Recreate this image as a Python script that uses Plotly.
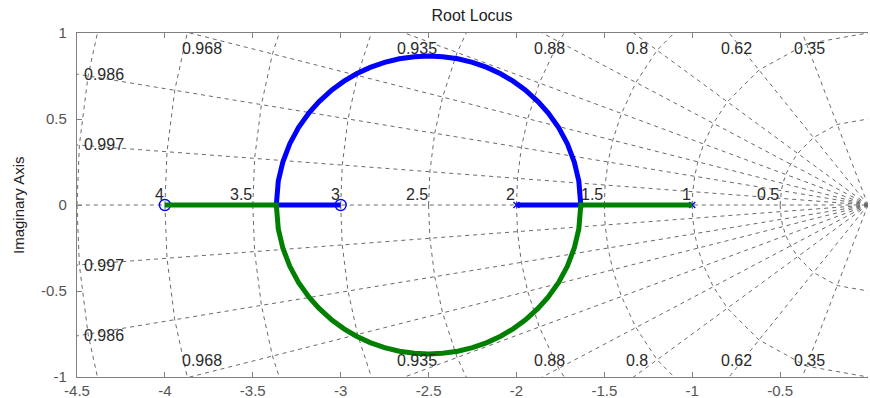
import numpy as np
import plotly.graph_objects as go

# Open-loop zeros and poles (real axis)
zeros_re = [-4.0, -3.0]
poles_re = [-2.0, -1.0]

# Upper half of the complex-pole loop, from breakaway (right) to break-in (left)
arc_re = [-1.634, -1.645, -1.671, -1.710, -1.760, -1.820, -1.876, -1.950, -2.019,
          -2.090, -2.168, -2.250, -2.334, -2.420, -2.500, -2.580, -2.666, -2.750,
          -2.832, -2.910, -2.981, -3.050, -3.124, -3.180, -3.240, -3.290, -3.329,
          -3.355, -3.366]
arc_im = [0.000, 0.138, 0.250, 0.355, 0.450, 0.536, 0.600, 0.669, 0.720,
          0.763, 0.800, 0.829, 0.850, 0.862, 0.866, 0.862, 0.850, 0.829,
          0.800, 0.763, 0.720, 0.669, 0.600, 0.536, 0.450, 0.355, 0.250,
          0.138, 0.000]

# Branch 1: pole -2 -> upper loop -> zero -3 ; Branch 2: pole -1 -> lower loop -> zero -4
b1_re = [poles_re[0]] + arc_re + [zeros_re[1]]
b1_im = [0.0] + arc_im + [0.0]
b2_re = [poles_re[1]] + arc_re + [zeros_re[0]]
b2_im = [0.0] + [-v for v in arc_im] + [0.0]

# s-plane grid: damping ratios and natural frequencies
zeta_lines = [0.997, 0.986, 0.968, 0.935, 0.88, 0.8, 0.62, 0.35]
wn_circles = [0.5, 1.0, 1.5, 2.0, 2.5, 3.0, 3.5, 4.0, 4.5, 5.0]
wn_labels = ["0.5", "1", "1.5", "2", "2.5", "3", "3.5", "4"]
zeta_labels = ["0.997", "0.986", "0.968", "0.935", "0.88", "0.8", "0.62", "0.35"]

XMIN, XMAX, YMIN, YMAX = -4.5, 0.0, -1.0, 1.0
GRID = "#6a6a6a"
FONT = "Liberation Sans, Arial, sans-serif"
LBL = dict(size=16, color="#2a2a2a", family=FONT)

fig = go.Figure()

# damping rays + real axis
gx, gy = [-8.0, 0.0, None], [0.0, 0.0, None]
for z in zeta_lines:
    s = np.sqrt(1 - z * z)
    for sgn in (1, -1):
        gx += [0.0, -8 * z, None]
        gy += [0.0, sgn * 8 * s, None]
# natural-frequency curves through the ray angles
angles = np.concatenate([[0.0], np.arccos(zeta_lines), [np.pi / 2]])
for w in wn_circles:
    for sgn in (1, -1):
        gx += list(-w * np.cos(angles)) + [None]
        gy += list(sgn * w * np.sin(angles)) + [None]
fig.add_trace(go.Scatter(x=gx, y=gy, mode="lines", hoverinfo="skip",
                         line=dict(color=GRID, width=1, dash="4px,4px")))

# zeros and poles
fig.add_trace(go.Scatter(x=zeros_re, y=[0, 0], mode="markers",
                         marker=dict(symbol="circle-open", size=11, color="#0000ff",
                                     line=dict(width=1.4, color="#0000ff"))))
fig.add_trace(go.Scatter(x=poles_re, y=[0, 0], mode="markers",
                         marker=dict(symbol="x-thin-open", size=6, color="#0000ff",
                                     line=dict(width=1.4, color="#0000ff"))))

# locus branches
fig.add_trace(go.Scatter(x=b1_re, y=b1_im, mode="lines",
                         line=dict(color="#0000ff", width=5)))
fig.add_trace(go.Scatter(x=b2_re, y=b2_im, mode="lines",
                         line=dict(color="#008000", width=5)))

ann = []
# natural-frequency labels just above the real axis
for w, t in zip(wn_circles, wn_labels):
    ann.append(dict(x=-w, y=0, text=t, showarrow=False, xanchor="right",
                    yanchor="middle", yshift=11, xshift=1, font=LBL))
# damping labels where rays leave the plot
for z, t in zip(zeta_lines, zeta_labels):
    s = np.sqrt(1 - z * z)
    tn = s / z
    if YMAX / tn <= -XMIN:
        xe = -YMAX / tn
        ann.append(dict(x=xe, y=YMAX, text=t, showarrow=False, xanchor="left",
                        yanchor="top", xshift=-10, yshift=-5, font=LBL))
        ann.append(dict(x=xe, y=YMIN, text=t, showarrow=False, xanchor="left",
                        yanchor="bottom", xshift=-10, yshift=6, font=LBL))
    else:
        ye = -XMIN * tn
        for sgn in (1, -1):
            ann.append(dict(x=XMIN, y=sgn * ye, text=t, showarrow=False,
                            xanchor="left", yanchor="middle", xshift=5, font=LBL))
# y-axis title
ann.append(dict(x=-0.0746, y=0.5, xref="paper", yref="paper", text="Imaginary Axis",
                textangle=-90, showarrow=False, xanchor="center", yanchor="middle",
                font=dict(size=15, color="#222222", family=FONT)))

axis_common = dict(showgrid=False, zeroline=False, showline=True, linecolor="#808080",
                   linewidth=1.3, ticks="inside", ticklen=5, tickcolor="#808080",
                   automargin=False,
                   tickfont=dict(size=15, color="#555555", family=FONT))

fig.update_layout(
    width=870, height=398,
    margin=dict(l=77, r=2, t=33, b=21),
    plot_bgcolor="white", paper_bgcolor="white",
    showlegend=False,
    title=dict(text="Root Locus", x=0.5425, xanchor="center", y=0.962, yanchor="middle",
               font=dict(size=16, color="#222222", family=FONT)),
    xaxis=dict(range=[XMIN, XMAX], tickvals=[-4.5, -4, -3.5, -3, -2.5, -2, -1.5, -1, -0.5, 0],
               ticktext=["-4.5", "-4", "-3.5", "-3", "-2.5", "-2", "-1.5", "-1", "-0.5", "0"],
               mirror="ticks", ticklabelstandoff=0, **axis_common),
    yaxis=dict(range=[YMIN, YMAX], tickvals=[-1, -0.5, 0, 0.5, 1],
               ticktext=["-1", "-0.5", "0", "0.5", "1"], ticklabelstandoff=6,
               **axis_common),
    annotations=ann,
)

fig.write_html("out.html")
